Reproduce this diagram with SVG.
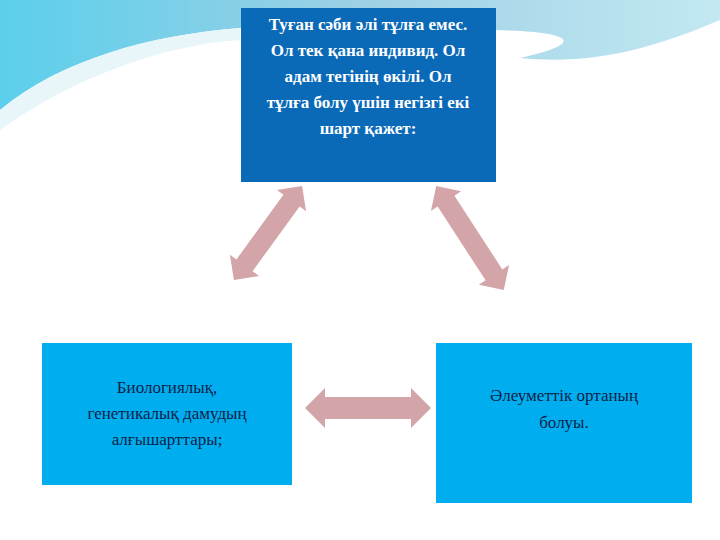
<svg xmlns="http://www.w3.org/2000/svg" width="720" height="540" viewBox="0 0 720 540">
<defs>
<linearGradient id="sw" x1="0" y1="0" x2="1" y2="0"><stop offset="0" stop-color="#3fc6e8"/><stop offset="0.5" stop-color="#8cc8e0"/><stop offset="1" stop-color="#b8e4f0"/></linearGradient>
<style>
.arr{fill:#d4a5a8}
.t{font-family:"Liberation Serif",serif;font-size:17px;text-anchor:middle}
</style>
</defs>
<rect width="720" height="540" fill="#fff"/>
<path d="M0 0H720V20C650 50 590 65 520 58C600 40 560 30 480 30C380 25 320 20 240 28C150 35 60 60 0 110Z" fill="url(#sw)" opacity="0.85"/>
<path d="M0 110C60 60 150 35 240 28V40C160 45 70 80 0 130Z" fill="#e8f6fa"/>
<g id="connectors">
<path class="arr" transform="translate(368,408)" d="M-63 0L-43 -20V-11H43V-20L63 0L43 20V11H-43V20Z"/>
<path class="arr" transform="translate(268,233) rotate(-54)" d="M-58 0L-40 -18V-10H40V-18L58 0L40 18V10H-40V18Z"/>
<path class="arr" transform="translate(470,238) rotate(57)" d="M-62 0L-44 -18V-10H44V-18L62 0L44 18V10H-44V18Z"/>
</g>
<g id="top">
<rect x="241" y="8" width="255" height="174" fill="#0a6ab8"/>
<text class="t" fill="#fff" font-weight="bold"><tspan x="368" y="30">Туған сәби әлі тұлға емес.</tspan><tspan x="368" y="56">Ол тек қана индивид. Ол</tspan><tspan x="368" y="82">адам тегінің өкілі. Ол</tspan><tspan x="368" y="108">тұлға болу үшін негізгі екі</tspan><tspan x="368" y="134">шарт қажет:</tspan></text>
</g>
<g id="left">
<rect x="42" y="343" width="250" height="142" fill="#00aeef"/>
<text class="t" fill="#0b1f4a"><tspan x="167" y="393">Биологиялық,</tspan><tspan x="167" y="419">генетикалық дамудың</tspan><tspan x="167" y="445">алғышарттары;</tspan></text>
</g>
<g id="right">
<rect x="436" y="343" width="256" height="160" fill="#00aeef"/>
<text class="t" fill="#0b1f4a" font-size="19"><tspan x="564" y="401">Әлеуметтік ортаның</tspan><tspan x="564" y="428">болуы.</tspan></text>
</g>
</svg>
